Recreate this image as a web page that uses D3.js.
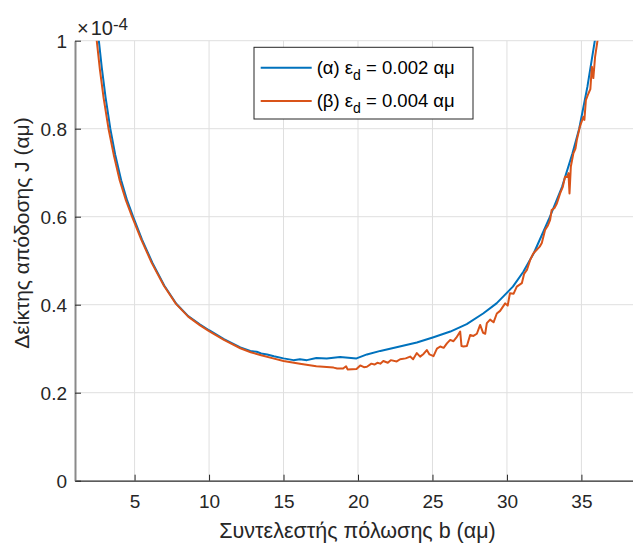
<!doctype html>
<html lang="el">
<head>
<meta charset="UTF-8">
<title>J vs b</title>
<script src="https://d3js.org/d3.v7.min.js"></script>
<style>
  body { margin: 0; background: #fff; }
  svg { display: block; font-family: "Liberation Sans", Arial, Helvetica, sans-serif; }
  .grid line { stroke: #dfdfdf; stroke-width: 1; }
  .tick text { fill: #262626; font-size: 19px; }
</style>
</head>
<body>
<svg id="chart" width="633" height="544"></svg>
<script>
// data (J in units of 1e-4)
var blueB = [2.45, 2.6, 2.8, 3.05, 3.37, 3.7, 4.1, 4.5, 4.9, 5.5, 6.2, 7.0, 7.8, 8.6, 9.4, 10, 11, 12.1, 12.77, 13.2, 13.5, 13.9, 14.35, 15, 15.67, 16.1, 16.57, 17.2, 17.9, 18.8, 19.9, 20.6, 21.5, 22.8, 23.95, 25.07, 26.2, 27.3, 28.4, 29.3, 30.4, 31.1, 31.8, 32.8, 33.7, 34.4, 34.85, 35.4, 35.9, 36.05];
var blueJ = [1.054, 1.0, 0.938, 0.872, 0.80, 0.741, 0.683, 0.637, 0.60, 0.548, 0.495, 0.443, 0.402, 0.374, 0.355, 0.342, 0.322, 0.303, 0.295, 0.293, 0.289, 0.287, 0.283, 0.278, 0.274, 0.276, 0.274, 0.279, 0.278, 0.281, 0.278, 0.287, 0.295, 0.305, 0.314, 0.326, 0.339, 0.356, 0.38, 0.403, 0.441, 0.475, 0.517, 0.593, 0.668, 0.744, 0.80, 0.895, 1.0, 1.05];

var orangeB = [2.3, 2.46, 2.67, 2.92, 3.25, 3.6, 4.0, 4.42, 4.83, 5.45, 6.15, 6.97, 7.78, 8.6, 9.4, 10, 11, 12.1, 12.8, 13.5, 14.3, 15, 16.1, 17.2, 18.36, 18.6, 19.0, 19.2, 19.3, 19.9, 20.15, 20.4, 20.6, 20.9, 21.1, 21.3, 21.5, 21.7, 22.0, 22.2, 22.6, 22.83, 23.2, 23.5, 23.7, 23.95, 24.17, 24.4, 24.62, 24.8, 25.07, 25.3, 25.52, 25.75, 25.97, 26.19, 26.41, 26.6, 26.86, 26.95, 27.08, 27.31, 27.53, 27.75, 27.98, 28.2, 28.4, 28.54, 28.65, 28.87, 29.1, 29.32, 29.54, 29.88, 30.05, 30.2, 30.45, 30.66, 31.0, 31.15, 31.34, 31.56, 31.78, 32.0, 32.2, 32.34, 32.56, 32.75, 32.9, 33.0, 33.2, 33.35, 33.57, 33.75, 33.9, 34.05, 34.13, 34.2, 34.29, 34.46, 34.6, 34.69, 34.9, 35.13, 35.2, 35.3, 35.47, 35.6, 35.7, 35.8, 35.92, 36.08, 36.2];
var orangeJ = [1.05, 1.0, 0.935, 0.87, 0.80, 0.741, 0.683, 0.637, 0.60, 0.548, 0.495, 0.443, 0.402, 0.373, 0.353, 0.340, 0.320, 0.301, 0.292, 0.285, 0.278, 0.272, 0.266, 0.260, 0.257, 0.255, 0.255, 0.260, 0.253, 0.254, 0.262, 0.258, 0.259, 0.266, 0.264, 0.268, 0.266, 0.272, 0.268, 0.274, 0.271, 0.276, 0.278, 0.282, 0.276, 0.290, 0.282, 0.288, 0.297, 0.287, 0.283, 0.300, 0.305, 0.302, 0.312, 0.320, 0.317, 0.325, 0.339, 0.306, 0.305, 0.306, 0.331, 0.329, 0.334, 0.354, 0.336, 0.334, 0.358, 0.366, 0.360, 0.380, 0.386, 0.403, 0.398, 0.426, 0.425, 0.441, 0.449, 0.470, 0.479, 0.502, 0.517, 0.525, 0.532, 0.540, 0.570, 0.580, 0.593, 0.615, 0.620, 0.630, 0.653, 0.668, 0.691, 0.690, 0.699, 0.653, 0.714, 0.744, 0.755, 0.774, 0.805, 0.827, 0.820, 0.865, 0.88, 0.89, 0.941, 0.915, 0.964, 1.0, 1.05];

var xTicks = [5, 10, 15, 20, 25, 30, 35];
var yTicks = [0, 0.2, 0.4, 0.6, 0.8, 1];
var yTickLabels = ["0", "0.2", "0.4", "0.6", "0.8", "1"];
var seriesNames = ["(α) ε", "(β) ε"];
var seriesSub = ["d", "d"];
var seriesTail = [" = 0.002 αμ", " = 0.004 αμ"];
var seriesColors = ["#0072BD", "#D95319"];
var xLabel = "Συντελεστής πόλωσης b (αμ)";
var yLabel = "Δείκτης απόδοσης J (αμ)";

var plotL = 75, plotT = 40.7, plotB = 480.7, plotR = 641;

var svg = d3.select("#chart");
var x = d3.scaleLinear().domain([1, 39]).range([plotL, plotR]);
var y = d3.scaleLinear().domain([0, 1]).range([plotB, plotT]);

svg.append("rect").attr("width", 633).attr("height", 544).attr("fill", "#fff");

// grid
var grid = svg.append("g").attr("class", "grid");
grid.selectAll(".gx").data(xTicks).enter().append("line")
    .attr("x1", d => x(d)).attr("x2", d => x(d))
    .attr("y1", plotT).attr("y2", plotB);
grid.selectAll(".gy").data(yTicks.slice(1)).enter().append("line")
    .attr("x1", plotL).attr("x2", plotR)
    .attr("y1", d => y(d)).attr("y2", d => y(d));

svg.append("defs").append("clipPath").attr("id", "clip")
  .append("rect").attr("x", plotL).attr("y", plotT)
  .attr("width", plotR - plotL).attr("height", plotB - plotT);

var line = d3.line().x(d => x(d[0])).y(d => y(d[1]));
var plot = svg.append("g").attr("clip-path", "url(#clip)");
plot.append("path")
    .datum(blueB.map((b, i) => [b, blueJ[i]]))
    .attr("d", line).attr("fill", "none")
    .attr("stroke", seriesColors[0]).attr("stroke-width", 2)
    .attr("stroke-linejoin", "round");
plot.append("path")
    .datum(orangeB.map((b, i) => [b, orangeJ[i]]))
    .attr("d", line).attr("fill", "none")
    .attr("stroke", seriesColors[1]).attr("stroke-width", 2)
    .attr("stroke-linejoin", "round");

// axes
var xAxis = svg.append("g").attr("transform", "translate(0," + plotB + ")")
    .call(d3.axisBottom(x).tickValues(xTicks).tickSizeInner(-6).tickSizeOuter(0).tickPadding(14));
xAxis.select(".domain").attr("stroke", "#262626").attr("stroke-width", 1.3);
xAxis.selectAll(".tick line").attr("stroke", "#262626");

var yAxis = svg.append("g").attr("transform", "translate(" + plotL + ",0)")
    .call(d3.axisLeft(y).tickValues(yTicks).tickFormat((d, i) => yTickLabels[i])
      .tickSizeInner(-6).tickSizeOuter(0).tickPadding(8));
yAxis.select(".domain").attr("stroke", "#8a8a8a").attr("stroke-width", 2);
yAxis.selectAll(".tick line").attr("stroke", "#262626");
yAxis.selectAll(".tick text").attr("dy", "0.35em");

// exponent
var ex = svg.append("text").attr("x", 77).attr("y", 35).attr("fill", "#262626")
    .style("font-size", "20px");
ex.append("tspan").text("×");
ex.append("tspan").attr("dx", 2).text("10");
ex.append("tspan").attr("dy", -5).style("font-size", "17px").text("-4");

// labels
svg.append("text").attr("x", 357.5).attr("y", 538)
    .attr("text-anchor", "middle").attr("fill", "#262626")
    .style("font-size", "21.5px").text(xLabel);
svg.append("text").attr("transform", "translate(28.5,233) rotate(-90)")
    .attr("text-anchor", "middle").attr("fill", "#262626")
    .style("font-size", "21px").text(yLabel);

// legend
var lg = svg.append("g");
lg.append("rect").attr("x", 254).attr("y", 47.3).attr("width", 219).attr("height", 71.7)
    .attr("fill", "#fff").attr("stroke", "#262626").attr("stroke-width", 1);
[0, 1].forEach(function(i) {
  var ly = 67.7 + i * 33.3;
  lg.append("line").attr("x1", 260.7).attr("x2", 311.7).attr("y1", ly).attr("y2", ly)
    .attr("stroke", seriesColors[i]).attr("stroke-width", 2);
  var t = lg.append("text").attr("x", 316.7).attr("y", ly + 6).attr("fill", "#000")
    .style("font-size", "18.5px");
  t.append("tspan").text(seriesNames[i]);
  t.append("tspan").attr("dy", 6).style("font-size", "14px").text(seriesSub[i]);
  t.append("tspan").attr("dy", -6).text(seriesTail[i]);
});
</script>
</body>
</html>
